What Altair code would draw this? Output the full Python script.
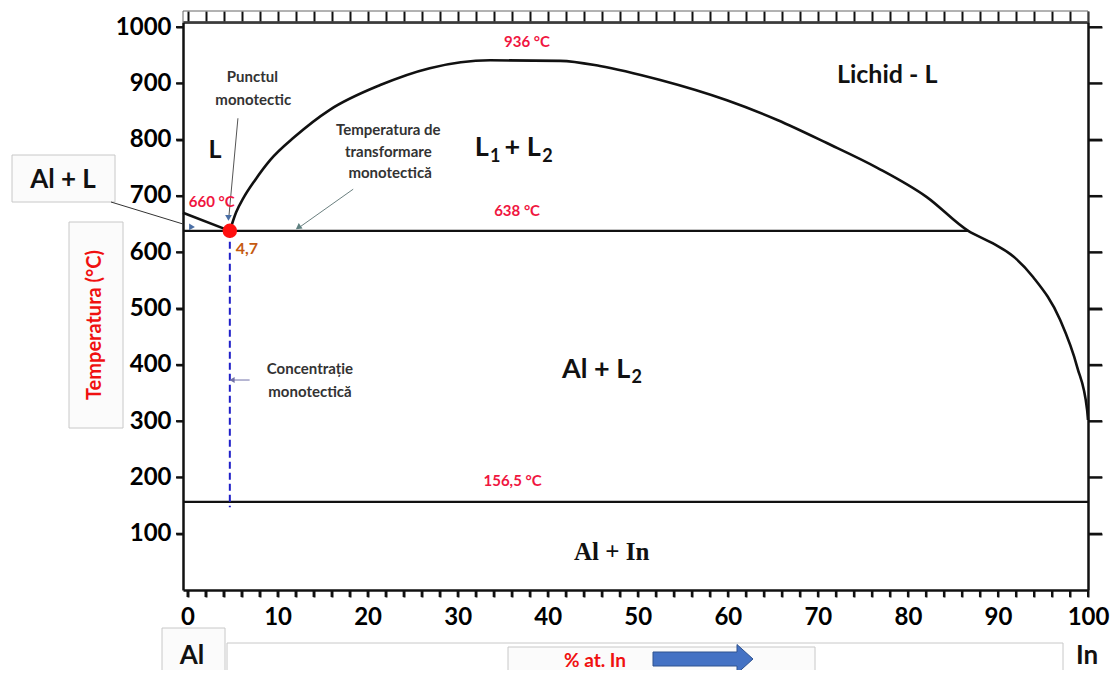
import altair as alt
import pandas as pd

# ---------------- data ----------------
# miscibility gap / liquidus curve (% at. In, °C)
gap_x = [4.7, 5.4, 6.2, 7.5, 9.2, 11.9, 15.8, 21.4, 26.9, 33.6, 41.4, 45.8, 52.5,
         59.9, 65.5, 71.0, 76.6, 82.1, 86.7, 89.4, 91.9, 93.9, 96.9, 98.8, 99.9, 100.0]
gap_t = [638, 671, 696, 728, 764, 805, 853, 897, 927, 941, 940, 931, 906,
         870, 835, 794, 750, 698, 638, 616, 590, 556, 480, 396, 320, 302]
# Al-rich liquidus
alliq_x = [-0.5, 4.7]
alliq_t = [670, 638]
# monotectic isotherm
mono_x = [-0.5, 86.7]
mono_t = [638, 638]
# eutectic (In) isotherm
eut_x = [-0.5, 100.0]
eut_t = [156.5, 156.5]
# monotectic concentration
conc_x = [4.7]
conc_t = [638]
conc_t2 = [147]
# monotectic point
pt_x = [4.7]
pt_t = [638]

x_ticks = list(range(0, 101, 2))
y_ticks = list(range(100, 1001, 100))

FONT = "Lato"
RED = "#F0163F"
GRAY_TXT = "#333333"

X_DOM = [-0.5, 100]
Y_DOM = [0, 1009]
xs = alt.Scale(domain=X_DOM, nice=False, zero=False)
ys = alt.Scale(domain=Y_DOM, nice=False, zero=False)

W, H = 905, 568


def df_xy(x, t):
    return pd.DataFrame({"x": x, "t": t})


def X(axis=None):
    return alt.X("x:Q", scale=xs, axis=axis)


def Y(axis=None):
    return alt.Y("t:Q", scale=ys, axis=axis)


common = dict(ticks=True, tickWidth=2, tickColor="#111", tickOpacity=1,
              domainColor="#111", domainWidth=2.5, grid=False, title=None)

bottom_axis = alt.Axis(orient="bottom", values=x_ticks,
                       labelExpr="datum.value % 10 === 0 ? datum.label : ''",
                       labelFont=FONT, labelFontWeight="bold", labelFontSize=24,
                       labelColor="black", labelPadding=8, labelFlush=False,
                       labelOverlap=False, labelBound=False, tickSize=7, **common)
left_axis = alt.Axis(orient="left", values=y_ticks, format="d",
                     labelFont=FONT, labelFontWeight="bold", labelFontSize=24,
                     labelColor="black", labelPadding=5, labelOverlap=False,
                     labelFlush=False, tickSize=7, **common)
top_axis = alt.Axis(orient="top", values=x_ticks, labels=False, tickSize=11, **common)
right_axis = alt.Axis(orient="right", values=y_ticks, labels=False, tickSize=14, **common)

one = pd.DataFrame({"a": [0]})

layers = []

# decorative boxes outside the plot
def box(x1, y1, x2, y2, fill="#FBFBFB", stroke="#C8C8C8", fo=1.0):
    return alt.Chart(one).mark_rect(fill=fill, stroke=stroke, strokeWidth=1,
                                    fillOpacity=fo).encode(
        x=alt.value(x1), x2=alt.value(x2), y=alt.value(y1), y2=alt.value(y2))

layers += [
    box(44, 621, 880, 700, fill="white"),
    box(-171, 133, -68, 180),
    box(-114, 200, -60, 406),
    box(-21, 606, 42, 700),
    box(325, 625, 632, 700),
    box(0, -11, W, 0, fill="white", stroke="#666", fo=0.0),
]

# axis carrier layers
layers.append(alt.Chart(df_xy(eut_x, eut_t)).mark_line(color="#111", strokeWidth=2.2)
              .encode(x=X(bottom_axis), y=Y(left_axis)))
layers.append(alt.Chart(df_xy(mono_x, mono_t)).mark_line(color="#111", strokeWidth=2.2)
              .encode(x=X(top_axis), y=Y(right_axis)))

# outward tick marks on bottom, left and right edges: the tick values are mapped to
# pixels with the same linear mapping as the scales (done in Vega expressions)
xt = pd.DataFrame({"x": x_ticks})
yt = pd.DataFrame({"t": y_ticks})
px_expr = f"(datum.x - ({X_DOM[0]})) / ({X_DOM[1]} - ({X_DOM[0]})) * {W}"
py_expr = f"(1 - (datum.t - {Y_DOM[0]}) / ({Y_DOM[1]} - {Y_DOM[0]})) * {H}"
layers.append(alt.Chart(xt).transform_calculate(px=px_expr)
              .mark_rule(color="#111", strokeWidth=2)
              .encode(x=alt.X("px:Q", scale=None, axis=None),
                      y=alt.value(H), y2=alt.value(H + 7)))
layers.append(alt.Chart(yt).transform_calculate(py=py_expr)
              .mark_rule(color="#111", strokeWidth=2)
              .encode(y=alt.Y("py:Q", scale=None, axis=None),
                      x=alt.value(-7), x2=alt.value(0)))
layers.append(alt.Chart(yt).transform_calculate(py=py_expr)
              .mark_rule(color="#111", strokeWidth=2)
              .encode(y=alt.Y("py:Q", scale=None, axis=None),
                      x=alt.value(W), x2=alt.value(W + 14)))

# curves
layers.append(alt.Chart(df_xy(alliq_x, alliq_t)).mark_line(color="#111", strokeWidth=2.6)
              .encode(x=X(), y=Y()))
layers.append(alt.Chart(df_xy(gap_x, gap_t)).mark_line(color="#111", strokeWidth=2.6,
                                                        interpolate="monotone")
              .encode(x=X(), y=Y()))
layers.append(alt.Chart(pd.DataFrame({"x": conc_x, "t": conc_t, "t2": conc_t2}))
              .mark_rule(color="#1F1FC8", strokeWidth=2, strokeDash=[7, 4])
              .encode(x=X(), y=Y(), y2="t2:Q"))

# leader lines (data coordinates)
def leader(x1, t1, x2, t2, color):
    d = pd.DataFrame({"x": [x1], "t": [t1], "x2": [x2], "t2": [t2]})
    return alt.Chart(d).mark_rule(color=color, strokeWidth=1).encode(
        x=X(), y=Y(), x2="x2:Q", y2="t2:Q")

layers += [
    leader(5.6, 838, 4.6, 664, "#555"),
    leader(18.4, 712, 12.4, 644, "#6B8080"),
    leader(6.9, 373, 4.9, 373, "#7070A8"),
]
layers.append(alt.Chart(one).mark_rule(color="#333", strokeWidth=1).encode(
    x=alt.value(-72), y=alt.value(180), x2=alt.value(0), y2=alt.value(202)))

def head(x, t, shape, color, angle=0, size=45):
    return alt.Chart(df_xy([x], [t])).mark_point(shape=shape, filled=True, color=color,
                                                 size=size, angle=angle, opacity=1).encode(
        x=X(), y=Y())

layers += [
    head(4.55, 661, "triangle-down", "#4A6FA5"),
    head(0.5, 645, "triangle-right", "#4A6FA5"),
    head(12.3, 644, "triangle-up", "#5E8080", angle=235),
    head(4.95, 373, "triangle-left", "#7070A8", size=35),
]

# monotectic point
layers.append(alt.Chart(df_xy(pt_x, pt_t)).mark_point(filled=True, color="#FF1010",
                                                      size=210, opacity=1)
              .encode(x=X(), y=Y()))

# text labels in data coordinates
def labels(texts, x, t, **kw):
    d = pd.DataFrame({"label": texts, "x": x, "t": t})
    return alt.Chart(d).mark_text(**kw).encode(x=X(), y=Y(), text="label:N")

big = dict(font=FONT, fontWeight="bold", color="#111")
layers.append(labels(["L", "Lichid - L"], [3.05, 77.7], [781, 915], fontSize=25, **big))
# phase labels with subscripts: main letters, then subscripts
layers.append(labels(["L", "+ L", "Al + L"], [31.9, 35.2, 41.6], [785, 785, 391],
                     fontSize=27, align="left", **big))
layers.append(labels(["1", "2", "2"], [33.6, 39.4, 49.3], [770, 770, 376],
                     fontSize=18, align="left", **big))
layers.append(labels(["936 °C", "660 °C", "638 °C", "156,5 °C"],
                     [37.7, 2.7, 36.6, 36.1], [973, 689, 673, 194],
                     font=FONT, fontWeight="bold", fontSize=15, color=RED))
layers.append(labels(["Punctul", "monotectic", "Temperatura de", "transformare",
                      "monotectică", "Concentrație", "monotectică"],
                     [7.2, 7.3, 22.3, 22.3, 22.5, 13.6, 13.6],
                     [911, 870, 817, 778, 741, 393, 352],
                     font=FONT, fontWeight="bold", fontSize=15, color=GRAY_TXT))
layers.append(labels(["4,7"], [6.6], [606], font=FONT, fontWeight="bold",
                     fontSize=16, color="#C55A11"))
layers.append(labels(["Al + In"], [47.1], [67], font="Liberation Serif",
                     fontWeight="bold", fontSize=25, color="#111"))

# text outside the plot (pixel positions)
def ptext(txt, px, py, **kw):
    return alt.Chart(one).mark_text(text=txt, **kw).encode(x=alt.value(px), y=alt.value(py))

layers += [
    ptext("Al + L", -120, 158, font=FONT, fontWeight="bold", fontSize=26, color="#111"),
    ptext("Temperatura (°C)", -88, 303, angle=270, font=FONT, fontWeight="bold",
          fontSize=20, color="#F01010"),
    ptext("Al", 9, 634, font=FONT, fontWeight="bold", fontSize=26, color="#111"),
    ptext("In", 904, 634, font=FONT, fontWeight="bold", fontSize=26, color="#111"),
    ptext("% at. In", 412, 639, font=FONT, fontWeight="bold", fontSize=19, color="#F01010"),
]

# big blue arrow next to "% at. In"
layers.append(alt.Chart(one).mark_point(
    shape="M-1,-0.14L0.68,-0.14L0.68,-0.29L1,0L0.68,0.29L0.68,0.14L-1,0.14Z",
    size=10000, filled=True, fill="#4472C4", stroke="#2F528F", strokeWidth=1,
    opacity=1).encode(x=alt.value(520), y=alt.value(637)))

chart = alt.layer(*layers).resolve_axis(x="independent", y="independent").properties(
    width=W, height=H,
    autosize=alt.AutoSizeParams(type="none"),
    padding={"left": 175, "top": 14, "right": 22, "bottom": 80},
).configure_view(stroke=None)

chart.save("out.html", embed_options={"renderer": "svg", "actions": False})
